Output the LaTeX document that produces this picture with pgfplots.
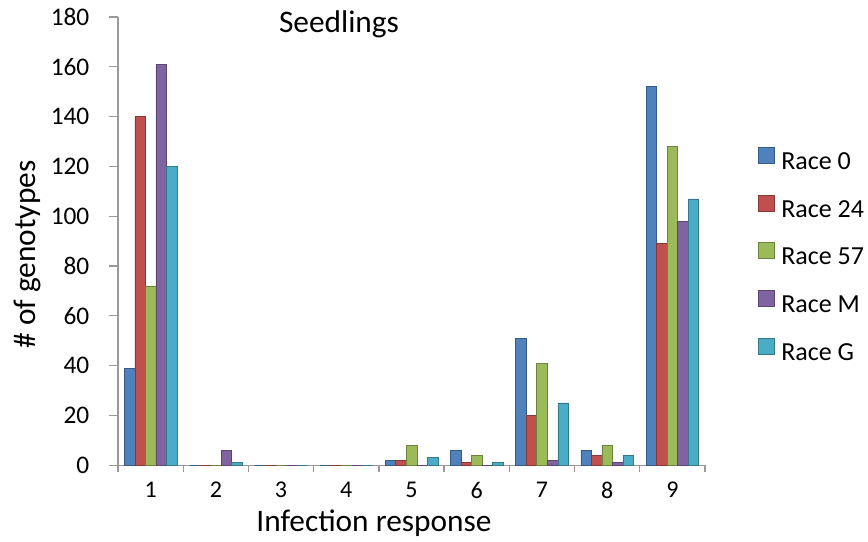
\documentclass[border=0pt]{standalone}
\usepackage{pgfplots}
\usepackage{pgfplotstable}
\pgfplotsset{compat=1.18}
\usepackage{fontspec}
\setmainfont{Carlito}
\definecolor{cA}{HTML}{4F81BD}
\definecolor{cB}{HTML}{C0504D}
\definecolor{cC}{HTML}{9BBB59}
\definecolor{cD}{HTML}{8064A2}
\definecolor{cE}{HTML}{4BACC6}
\pgfplotstableread{
cat r0 r24 r57 rM rG
1 39 140 72 161 120
2 0 0 0 6 1
3 0 0 0 0 0
4 0 0 0 0 0
5 2 2 8 0 3
6 6 1 4 0 1
7 51 20 41 2 25
8 6 4 8 1 4
9 152 89 128 98 107
}\datatable
\begin{document}
\begin{tikzpicture}
\begin{axis}[
  scale only axis,
  width=440pt, height=336pt,
  ybar=0pt, bar width=7.9pt,
  xmin=0.5, xmax=9.5, ymin=0, ymax=180,
  xtick={1,...,9},
  minor xtick={0.5,1.5,...,9.5},
  ytick={0,20,...,180},
  axis x line*=bottom, axis y line*=left,
  axis line style={gray!80, line width=1pt},
  every tick/.style={gray!80, line width=1pt},
  major x tick style={draw=none},
  minor tick length=5pt, major tick length=7pt,
  tick align=outside,
  /pgf/number format/assume math mode=true,
  tick label style={font=\fontsize{19}{22}\selectfont},
  yticklabel style={xshift=-11pt},
  xticklabel style={font=\fontsize{18}{21}\selectfont, yshift=-2pt},
  xlabel={Infection response},
  ylabel={\# of genotypes},
  label style={font=\fontsize{23.5}{27}\selectfont},
  xlabel style={at={(axis description cs:0.436,-0.088)}, anchor=north},
  ylabel style={at={(axis description cs:-0.155,0.47)}, anchor=center},
  legend style={at={(rel axis cs:1.090,0.71)}, anchor=north west, draw=none,
    font=\fontsize{19.5}{22}\selectfont, row sep=15pt, column sep=5pt, fill=none,
    inner sep=0pt, nodes={inner sep=0pt, text height=13pt, text depth=4pt}},
  legend cell align=left,
  legend image code/.code={\fill[#1] (0pt,0pt) rectangle (12pt,12pt);},
  clip=false,
]
\addplot[fill=cA, draw=cA!70!black] table[x=cat,y=r0]{\datatable};
\addplot[fill=cB, draw=cB!70!black] table[x=cat,y=r24]{\datatable};
\addplot[fill=cC, draw=cC!70!black] table[x=cat,y=r57]{\datatable};
\addplot[fill=cD, draw=cD!70!black] table[x=cat,y=rM]{\datatable};
\addplot[fill=cE, draw=cE!70!black] table[x=cat,y=rG]{\datatable};
\legend{Race 0, Race 24, Race 57, Race M, Race G}
\node[font=\fontsize{23.5}{27}\selectfont] at (rel axis cs:0.3765,0.984) {Seedlings};
\coordinate (bbl) at (rel axis cs:-0.2011,-0.1696);
\coordinate (btr) at (rel axis cs:1.2777,1.0379);
\end{axis}
\pgfresetboundingbox
\path[use as bounding box] (bbl) rectangle (btr);
\end{tikzpicture}
\end{document}
